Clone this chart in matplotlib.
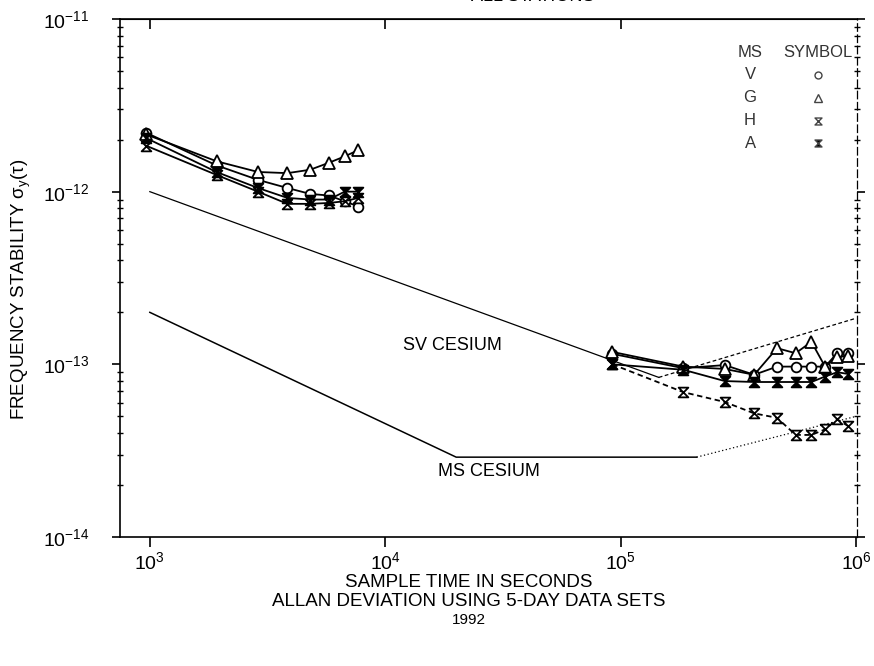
import numpy as np
import matplotlib
matplotlib.use('Agg')
import matplotlib.pyplot as plt
from matplotlib.path import Path

plt.rcParams['font.family'] = ['Liberation Sans', 'DejaVu Sans']
plt.rcParams['mathtext.default'] = 'regular'

# sample times: 16-minute steps (n*960 s) and ~1-day steps (n*92160 s)
tau_short = [960, 1920, 2880, 3840, 4800, 5760, 6720, 7680]
tau_long = [92160, 184320, 276480, 368640, 460800, 552960, 645120, 737280, 829440, 921600]

# allan deviation per master station, short sample times
v_short = [2.2e-12, 1.42e-12, 1.17e-12, 1.05e-12, 0.97e-12, 0.95e-12, 0.88e-12, 0.82e-12]
g_short = [2.15e-12, 1.5e-12, 1.3e-12, 1.28e-12, 1.34e-12, 1.47e-12, 1.6e-12, 1.74e-12]
h_short = [1.85e-12, 1.25e-12, 1.0e-12, 0.85e-12, 0.85e-12, 0.86e-12, 0.88e-12, 0.92e-12]
a_short = [2.05e-12, 1.3e-12, 1.05e-12, 0.92e-12, 0.9e-12, 0.9e-12, 1.0e-12, 1.0e-12]

# allan deviation per master station, long sample times
v_long = [1.15e-13, 9.5e-14, 9.9e-14, 8.7e-14, 9.7e-14, 9.7e-14, 9.7e-14, 9.7e-14, 1.16e-13, 1.16e-13]
g_long = [1.18e-13, 9.7e-14, 9.4e-14, 8.7e-14, 1.24e-13, 1.16e-13, 1.35e-13, 9.7e-14, 1.1e-13, 1.12e-13]
h_long = [1.0e-13, 6.9e-14, 6.05e-14, 5.2e-14, 4.9e-14, 3.9e-14, 3.9e-14, 4.2e-14, 4.8e-14, 4.4e-14]
a_long = [1.0e-13, 9.3e-14, 8.0e-14, 7.9e-14, 7.9e-14, 7.9e-14, 7.9e-14, 8.5e-14, 9.0e-14, 8.8e-14]

# specification curves
sv_tau = [1e3, 1.45e5, 1e6]
sv_sigma = [1e-12, 8.4e-14, 1.85e-13]
ms_tau = [1e3, 2e4, 2.1e5, 1e6]
ms_sigma = [2e-13, 2.9e-14, 2.9e-14, 5e-14]

stations = ['V', 'G', 'H', 'A']

hourglass = Path([(-1, 1), (1, 1), (-1, -1), (1, -1), (-1, 1)],
                 [Path.MOVETO, Path.LINETO, Path.LINETO, Path.LINETO, Path.CLOSEPOLY])

fig = plt.figure(figsize=(8.74, 6.66), dpi=100)
ax = fig.add_axes([0.1373, 0.1937, 0.8432, 0.7778])
ax.set_xscale('log')
ax.set_yscale('log')
ax.set_xlim(747, 1.007e6)
ax.set_ylim(1e-14, 1e-11)

# spec lines
ax.plot(sv_tau[:2], sv_sigma[:2], color='black', linewidth=0.9)
ax.plot(sv_tau[1:], sv_sigma[1:], color='black', linewidth=0.9, linestyle=(0, (3, 2)))
ax.plot(ms_tau[:3], ms_sigma[:3], color='black', linewidth=1.1)
ax.plot(ms_tau[2:], ms_sigma[2:], color='black', linewidth=0.9, linestyle=(0, (1, 2)))
ax.text(1.92e4, 1.29e-13, 'SV CESIUM', fontsize=13, ha='center', va='center')
ax.text(2.76e4, 2.38e-14, 'MS CESIUM', fontsize=13, ha='center', va='center')

styles = [
    dict(marker='o', markerfacecolor='white', markersize=7),
    dict(marker='^', markerfacecolor='white', markersize=8),
    dict(marker=hourglass, markerfacecolor='white', markersize=7),
    dict(marker=hourglass, markerfacecolor='black', markersize=7),
]
short_sets = [v_short, g_short, h_short, a_short]
long_sets = [v_long, g_long, h_long, a_long]
for i in range(4):
    ax.plot(tau_short, short_sets[i], color='black', linewidth=1.3,
            markeredgecolor='black', markeredgewidth=1.3, **styles[i])
    ls = (0, (3, 2)) if stations[i] == 'H' else '-'
    ax.plot(tau_long, long_sets[i], color='black', linewidth=1.3, linestyle=ls,
            markeredgecolor='black', markeredgewidth=1.3, **styles[i])

# station key
ax.text(0.855, 0.935, 'MS', transform=ax.transAxes, fontsize=12, ha='center', va='center', color='#333333')
ax.text(0.947, 0.935, 'SYMBOL', transform=ax.transAxes, fontsize=12, ha='center', va='center', color='#333333')
for i, name in enumerate(stations):
    yy = 0.892 - i * 0.044
    ax.text(0.855, yy, name, transform=ax.transAxes, fontsize=12, ha='center', va='center', color='#333333')
    ax.plot([0.947], [yy], transform=ax.transAxes, linestyle='none', color='black',
            markeredgecolor='#444444', markeredgewidth=1.0,
            **dict(styles[i], markersize=styles[i]['markersize'] - 2))

ax.set_xticks([1e3, 1e4, 1e5, 1e6])
ax.set_xticklabels(['$10^3$', '$10^4$', '$10^5$', '$10^6$'], fontsize=14)
ax.xaxis.set_minor_locator(matplotlib.ticker.NullLocator())
ax.set_yticks([1e-14, 1e-13, 1e-12, 1e-11])
ax.set_yticklabels(['$10^{-14}$', '$10^{-13}$', '$10^{-12}$', '$10^{-11}$'], fontsize=14)
ax.yaxis.set_minor_locator(matplotlib.ticker.LogLocator(base=10, subs=np.arange(2, 10)))
ax.yaxis.set_minor_formatter(matplotlib.ticker.NullFormatter())
ax.tick_params(axis='x', which='major', direction='out', length=7, width=1.2, pad=3)
ax.tick_params(axis='y', which='major', direction='out', length=6, width=1.2, pad=16, right=True)
ax.tick_params(axis='y', which='minor', direction='inout', length=5, width=1.0, right=True)
for s in ax.spines.values():
    s.set_linewidth(1.2)
ax.spines['right'].set_linestyle((0, (6, 3)))
ax.spines['right'].set_linewidth(0.9)

# top ticks hang down into the plot
top = ax.secondary_xaxis('top')
top.set_xticks([1e3, 1e4, 1e5])
top.set_xticklabels([])
top.xaxis.set_minor_locator(matplotlib.ticker.NullLocator())
top.tick_params(direction='in', length=7, width=1.2)

fig.text(0.024, 0.566, r'FREQUENCY STABILITY $\sigma_y(\tau)$', fontsize=13.5,
         rotation=90, ha='center', va='center')
fig.text(0.5366, 0.125, 'SAMPLE TIME IN SECONDS', fontsize=13.5, ha='center', va='center')
fig.text(0.5366, 0.097, 'ALLAN DEVIATION USING 5-DAY DATA SETS', fontsize=13.5, ha='center', va='center')
fig.text(0.5366, 0.069, '1992', fontsize=11, ha='center', va='center')
fig.text(0.61, 0.999, 'ALL STATIONS', fontsize=13, ha='center', va='baseline')

plt.savefig('out.png', dpi=100)
plt.close()
